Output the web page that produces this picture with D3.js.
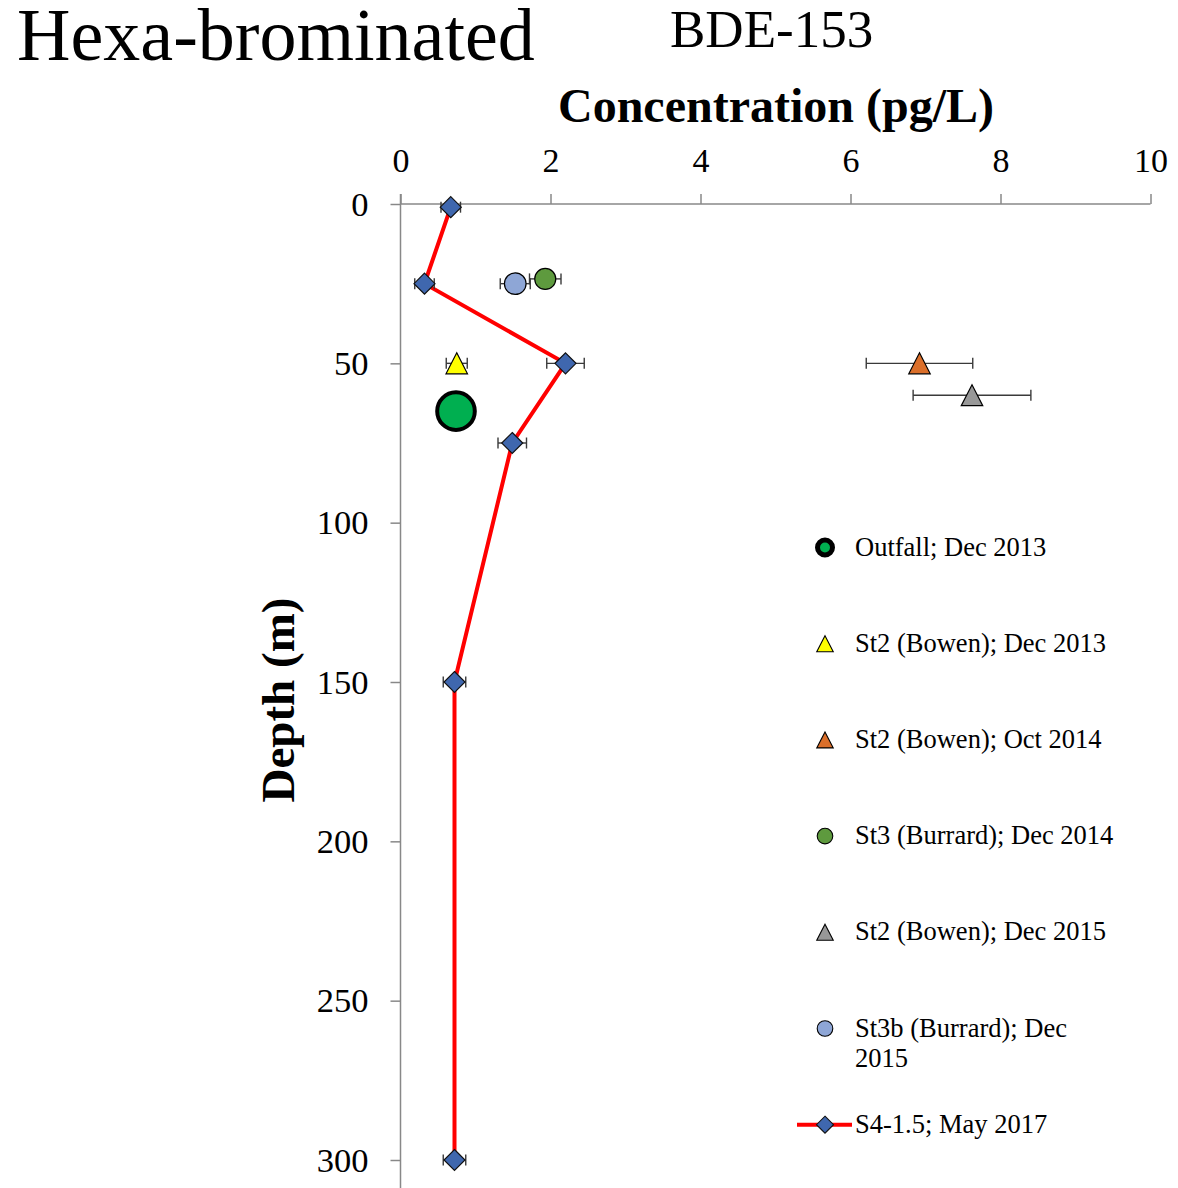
<!DOCTYPE html>
<html>
<head>
<meta charset="utf-8">
<script src="https://cdn.jsdelivr.net/npm/d3@7/dist/d3.min.js"></script>
<style>
  html, body { margin: 0; padding: 0; background: #fff; }
  svg { display: block; font-family: "Liberation Serif", "Times New Roman", serif; }
</style>
</head>
<body>
<svg id="chart" width="1178" height="1188"></svg>
<script>
// Concentration axis ticks (pg/L) and depth ticks (m)
const xTicks = [0, 2, 4, 6, 8, 10];
const yTicks = [0, 50, 100, 150, 200, 250, 300];

// Discrete samples: concentration, depth, half-width of error bar
const outfallDec2013 = [{ conc: 0.74, depth: 65, err: 0 }];
const st2Dec2013     = [{ conc: 0.75, depth: 50, err: 0.14 }];
const st2Oct2014     = [{ conc: 6.92, depth: 50, err: 0.71 }];
const st3Dec2014     = [{ conc: 1.93, depth: 23.5, err: 0.21 }];
const st2Dec2015     = [{ conc: 7.62, depth: 60, err: 0.785 }];
const st3bDec2015    = [{ conc: 1.53, depth: 25, err: 0.2 }];

// Profile S4-1.5, May 2017
const s4Depth = [1, 25, 50, 75, 150, 300];
const s4Conc  = [0.67, 0.32, 2.2, 1.49, 0.72, 0.72];
const s4Err   = [0.13, 0.13, 0.25, 0.19, 0.15, 0.15];

const svg = d3.select("#chart");

const x = d3.scaleLinear().domain([0, 10]).range([400.5, 1150.5]);
const y = d3.scaleLinear().domain([0, 310]).range([204, 204 + 310 * (956 / 300)]);

const axisColor = "#888888";
const serif = "'Liberation Serif', 'Times New Roman', serif";

// Titles
svg.append("text").attr("x", 17).attr("y", 60)
  .attr("font-size", 74).attr("fill", "#000").text("Hexa-brominated");
svg.append("text").attr("x", 670).attr("y", 47)
  .attr("font-size", 53).attr("fill", "#000").text("BDE-153");
svg.append("text").attr("x", 776).attr("y", 122)
  .attr("text-anchor", "middle").attr("font-size", 48).attr("font-weight", "bold")
  .text("Concentration (pg/L)");
svg.append("text")
  .attr("transform", "translate(294,700) rotate(-90)")
  .attr("text-anchor", "middle").attr("font-size", 47).attr("font-weight", "bold")
  .text("Depth (m)");

// Top concentration axis
const gx = svg.append("g").attr("transform", `translate(0,${y(0)})`)
  .call(d3.axisTop(x).tickValues(xTicks).tickSize(10).tickPadding(22).tickFormat(d3.format("d")));
gx.attr("font-family", serif);
gx.select(".domain").attr("stroke", axisColor).attr("stroke-width", 1.5)
  .attr("d", `M${x(0)},0H${x(10)}`);
gx.selectAll(".tick line").attr("stroke", axisColor).attr("stroke-width", 1.5);
gx.selectAll(".tick text").attr("font-size", 34).attr("fill", "#000");

// Left depth axis
const gy = svg.append("g").attr("transform", `translate(${x(0)},0)`)
  .call(d3.axisLeft(y).tickValues(yTicks).tickSize(10).tickPadding(22).tickFormat(d3.format("d")));
gy.attr("font-family", serif);
gy.select(".domain").attr("stroke", axisColor).attr("stroke-width", 1.5)
  .attr("d", `M0,${y(0) - 10}V${y(310)}`);
gy.selectAll(".tick line").attr("stroke", axisColor).attr("stroke-width", 1.5);
gy.selectAll(".tick text").attr("font-size", 34.5).attr("fill", "#000");

const plot = svg.append("g");

function errorBars(data, cap) {
  const g = plot.append("g").attr("stroke", "#3a3a3a").attr("stroke-width", 1.4).attr("fill", "none");
  data.filter(d => d.err > 0).forEach(d => {
    const y0 = y(d.depth), xl = x(d.conc - d.err), xr = x(d.conc + d.err);
    g.append("line").attr("x1", xl).attr("x2", xr).attr("y1", y0).attr("y2", y0);
    g.append("line").attr("x1", xl).attr("x2", xl).attr("y1", y0 - cap).attr("y2", y0 + cap);
    g.append("line").attr("x1", xr).attr("x2", xr).attr("y1", y0 - cap).attr("y2", y0 + cap);
  });
}

function trianglePath(cx, cy, w, h) {
  return `M${cx},${cy - h / 2}L${cx + w / 2},${cy + h / 2}L${cx - w / 2},${cy + h / 2}Z`;
}
function diamondPath(cx, cy, r) {
  return `M${cx},${cy - r}L${cx + r},${cy}L${cx},${cy + r}L${cx - r},${cy}Z`;
}

function circles(data, r, fill, stroke, sw) {
  errorBars(data, 5.5);
  plot.append("g").selectAll("circle").data(data).join("circle")
    .attr("cx", d => x(d.conc)).attr("cy", d => y(d.depth)).attr("r", r)
    .attr("fill", fill).attr("stroke", stroke).attr("stroke-width", sw);
}
function triangles(data, fill) {
  errorBars(data, 5.5);
  plot.append("g").selectAll("path").data(data).join("path")
    .attr("d", d => trianglePath(x(d.conc), y(d.depth), 21.5, 21))
    .attr("fill", fill).attr("stroke", "#000").attr("stroke-width", 1.2);
}

circles(outfallDec2013, 18.8, "#00AF50", "#000", 4);
triangles(st2Dec2013, "#FFFF00");
triangles(st2Oct2014, "#DB6F2A");
circles(st3Dec2014, 10.5, "#5E9A3E", "#000", 1.2);
triangles(st2Dec2015, "#989898");
circles(st3bDec2015, 10.8, "#8EA6D6", "#000", 1.2);

// S4 profile: line, error bars, diamonds
const s4 = s4Depth.map((dp, i) => ({ depth: dp, conc: s4Conc[i], err: s4Err[i] }));
plot.append("path").datum(s4)
  .attr("d", d3.line().x(d => x(d.conc)).y(d => y(d.depth)))
  .attr("fill", "none").attr("stroke", "#FF0000").attr("stroke-width", 4);
errorBars(s4, 5.5);
plot.append("g").selectAll("path").data(s4).join("path")
  .attr("d", d => diamondPath(x(d.conc), y(d.depth), 10.5))
  .attr("fill", "#3F67AE").attr("stroke", "#111").attr("stroke-width", 1.2);

// Legend
const legendItems = [
  { label: ["Outfall; Dec 2013"], kind: "outfall" },
  { label: ["St2 (Bowen); Dec 2013"], kind: "tri", fill: "#FFFF00" },
  { label: ["St2 (Bowen); Oct 2014"], kind: "tri", fill: "#DB6F2A" },
  { label: ["St3 (Burrard); Dec 2014"], kind: "circle", fill: "#5E9A3E" },
  { label: ["St2 (Bowen); Dec 2015"], kind: "tri", fill: "#989898" },
  { label: ["St3b (Burrard); Dec", "2015"], kind: "circle", fill: "#8EA6D6" },
  { label: ["S4-1.5; May 2017"], kind: "line" }
];
const lg = svg.append("g");
legendItems.forEach((it, i) => {
  const cy = 547.5 + i * 96.2;
  const mx = 825;
  const g = lg.append("g");
  if (it.kind === "outfall") {
    g.append("circle").attr("cx", mx).attr("cy", cy).attr("r", 7.5)
      .attr("fill", "#00AF50").attr("stroke", "#000").attr("stroke-width", 5);
  } else if (it.kind === "tri") {
    g.append("path").attr("d", trianglePath(mx, cy, 16.5, 16))
      .attr("fill", it.fill).attr("stroke", "#000").attr("stroke-width", 1.1);
  } else if (it.kind === "circle") {
    g.append("circle").attr("cx", mx).attr("cy", cy).attr("r", 7.8)
      .attr("fill", it.fill).attr("stroke", "#000").attr("stroke-width", 1.1);
  } else {
    g.append("line").attr("x1", 797).attr("x2", 852).attr("y1", cy).attr("y2", cy)
      .attr("stroke", "#FF0000").attr("stroke-width", 4);
    g.append("path").attr("d", diamondPath(mx, cy, 8.5))
      .attr("fill", "#3F67AE").attr("stroke", "#111").attr("stroke-width", 1.1);
  }
  const t = g.append("text").attr("x", 855).attr("y", cy + 8).attr("font-size", 26.5).attr("fill", "#000");
  it.label.forEach((line, j) => {
    t.append("tspan").attr("x", 855).attr("dy", j === 0 ? 0 : 30).text(line);
  });
});
</script>
</body>
</html>
